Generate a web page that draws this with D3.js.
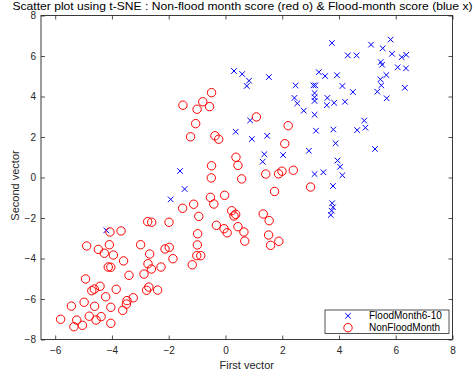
<!DOCTYPE html>
<html>
<head>
<meta charset="utf-8">
<script src="https://cdn.jsdelivr.net/npm/d3@7"></script>
<style>
  html, body { margin: 0; padding: 0; background: #fff; }
  svg { display: block; font-family: "Liberation Sans", Arial, sans-serif; }
</style>
</head>
<body>
<svg id="chart" width="475" height="377"></svg>
<script>
// t-SNE embedding: flood-month scores (blue x)
const floodX = [0.30, 0.59, 0.83, 0.75, 1.53, 2.47, 2.43, 2.53, 0.87, 0.36, 0.93, 1.47, 1.37, 1.31, 2.03,
  -1.60, -1.44, -1.93, -4.20, 3.75, 5.13, 5.54, 5.82, 5.87, 4.31, 4.62, 6.21, 6.37, 5.47, 5.52, 6.07, 6.36,
  3.29, 3.51, 3.93, 5.67, 5.46, 3.10, 3.17, 4.12, 5.49, 6.32, 4.49, 5.35, 3.14, 3.14, 3.59, 5.68, 3.14,
  3.57, 3.83, 4.21, 2.76, 3.14, 4.89, 4.93, 4.64, 3.19, 3.80, 3.88, 2.94, 5.27, 3.95, 4.04, 4.12, 3.14,
  3.45, 3.79, 3.76, 3.79, 3.74, 3.71];
const floodY = [5.26, 5.11, 4.78, 4.52, 4.96, 4.55, 3.93, 3.66, 2.82, 2.26, 1.90, 2.06, 1.15, 0.78, 1.11,
  0.32, -0.57, -1.08, -2.61, 6.64, 6.56, 6.38, 6.81, 6.11, 6.03, 6.03, 5.94, 6.06, 5.70, 5.57, 5.44, 5.39,
  5.20, 5.01, 5.05, 5.06, 4.85, 4.55, 4.55, 4.52, 4.55, 4.43, 4.22, 4.24, 4.17, 3.96, 3.93, 3.91, 3.78,
  3.57, 3.69, 3.74, 3.30, 3.10, 2.81, 2.46, 2.34, 2.31, 2.37, 1.69, 1.32, 1.41, 0.84, 0.53, 0.11, 0.17,
  0.26, -0.42, -1.27, -1.47, -1.64, -1.85];

// t-SNE embedding: non-flood-month scores (red o)
const nonFloodX = [-0.49, -0.80, -1.50, -1.00, -0.56, -1.05, 1.09, -1.23, -0.37, -0.24, 2.21, 2.09, 0.37,
  -0.49, 0.44, -0.50, 0.57, 1.42, 1.87, 1.99, 2.39, 1.73, -0.53, -0.41, -0.03, -1.12, -1.51, -0.94, 0.22,
  0.36, 0.30, -0.32, -0.05, 0.06, 0.44, 0.65, 0.68, 1.33, 1.54, 1.52, 1.59, 1.88, -0.98, -0.99, -1.01,
  -0.87, -1.17, 3.00, -2.74, -2.60, -1.99, -4.07, -3.68, -4.89, -4.09, -4.48, -4.27, -3.95, -2.99, -2.67,
  -2.13, -1.98, -1.85, -3.59, -4.13, -4.04, -2.73, -2.61, -2.27, -2.87, -3.40, -4.93, -4.42, -4.62, -4.71,
  -3.85, -2.70, -2.78, -2.39, -4.22, -3.25, -3.47, -3.49, -5.43, -4.98, -4.61, -4.04, -3.62, -5.81, -5.24,
  -4.80, -4.56, -4.38, -5.34, -5.04, -4.04];
const nonFloodY = [4.19, 3.74, 3.57, 3.37, 3.50, 2.66, 2.99, 2.01, 2.06, 1.89, 2.56, 1.67, 1.00, 0.58, 0.60,
  -0.02, -0.07, 0.17, 0.18, 0.31, 0.36, -0.69, -0.98, -1.31, -0.88, -1.32, -1.52, -1.92, -1.64, -1.82,
  -1.90, -2.36, -2.53, -2.73, -2.43, -2.69, -3.14, -1.80, -2.13, -2.84, -3.35, -3.15, -2.78, -3.33, -3.86,
  -3.86, -4.31, -0.47, -2.18, -2.21, -2.21, -2.69, -2.64, -3.38, -3.32, -3.55, -3.74, -3.83, -3.32, -3.78,
  -3.53, -3.45, -4.01, -4.12, -4.42, -4.43, -4.26, -4.52, -4.42, -4.77, -4.83, -5.01, -5.37, -5.51, -5.59,
  -5.52, -5.41, -5.57, -5.56, -5.89, -5.94, -6.08, -6.25, -6.35, -6.16, -6.36, -6.41, -6.56, -7.00, -7.04,
  -6.85, -7.04, -6.87, -7.37, -7.30, -7.20];

const xTicks = [-6, -4, -2, 0, 2, 4, 6, 8];
const yTicks = [-8, -6, -4, -2, 0, 2, 4, 6, 8];
const seriesNames = ["FloodMonth6-10", "NonFloodMonth"];
const titleText = "Scatter plot using t-SNE : Non-flood month score (red o) & Flood-month score (blue x)";

const svg = d3.select("#chart");
const axisColor = "#262626";
const m = { left: 41, right: 452.5, top: 15.5, bottom: 339.5 };

const x = d3.scaleLinear().domain([-6.5, 8]).range([m.left, m.right]);
const y = d3.scaleLinear().domain([-8, 8]).range([m.bottom, m.top]);

const fmt = d3.format("d");

function styleAxis(g) {
  g.select(".domain").remove();
  g.selectAll(".tick line").attr("stroke", axisColor).attr("stroke-width", 0.8);
  g.selectAll(".tick text").attr("fill", axisColor).attr("font-size", 10);
}

// bottom / left axes with inward ticks
svg.append("g")
  .attr("transform", `translate(0,${m.bottom})`)
  .call(d3.axisBottom(x).tickValues(xTicks).tickFormat(fmt).tickSizeInner(-4).tickSizeOuter(0).tickPadding(7))
  .call(styleAxis);

svg.append("g")
  .attr("transform", `translate(${m.left},0)`)
  .call(d3.axisLeft(y).tickValues(yTicks).tickFormat(fmt).tickSizeInner(-4).tickSizeOuter(0).tickPadding(5))
  .call(styleAxis);

// top / right axes: ticks only
svg.append("g")
  .attr("transform", `translate(0,${m.top})`)
  .call(d3.axisTop(x).tickValues(xTicks).tickFormat("").tickSizeInner(-4).tickSizeOuter(0))
  .call(styleAxis);

svg.append("g")
  .attr("transform", `translate(${m.right},0)`)
  .call(d3.axisRight(y).tickValues(yTicks).tickFormat("").tickSizeInner(-4).tickSizeOuter(0))
  .call(styleAxis);

// axes box
svg.append("rect")
  .attr("x", m.left).attr("y", m.top)
  .attr("width", m.right - m.left).attr("height", m.bottom - m.top)
  .attr("fill", "none").attr("stroke", axisColor).attr("stroke-width", 0.9);

const floodPts = floodX.map((v, i) => [v, floodY[i]]);
const nonFloodPts = nonFloodX.map((v, i) => [v, nonFloodY[i]]);

const xs = 2.8; // half-size of the x marker
const plot = svg.append("g");

plot.append("g").selectAll("path")
  .data(floodPts)
  .join("path")
  .attr("d", d => {
    const cx = x(d[0]), cy = y(d[1]);
    return `M${cx - xs},${cy - xs}L${cx + xs},${cy + xs}M${cx - xs},${cy + xs}L${cx + xs},${cy - xs}`;
  })
  .attr("stroke", "#0000ff")
  .attr("stroke-width", 1)
  .attr("fill", "none");

plot.append("g").selectAll("circle")
  .data(nonFloodPts)
  .join("circle")
  .attr("cx", d => x(d[0]))
  .attr("cy", d => y(d[1]))
  .attr("r", 4.2)
  .attr("fill", "none")
  .attr("stroke", "#ff0000")
  .attr("stroke-width", 1);

// title
svg.append("text")
  .attr("x", 242.5).attr("y", 9.5)
  .attr("text-anchor", "middle")
  .attr("font-size", 10.5)
  .attr("fill", "#000")
  .attr("textLength", 460)
  .attr("lengthAdjust", "spacingAndGlyphs")
  .text(titleText);

// axis labels
svg.append("text")
  .attr("x", (m.left + m.right) / 2).attr("y", 369)
  .attr("text-anchor", "middle")
  .attr("font-size", 11)
  .attr("fill", axisColor)
  .text("First vector");

svg.append("text")
  .attr("transform", `translate(18.5,${(m.top + m.bottom) / 2 + 8}) rotate(-90)`)
  .attr("text-anchor", "middle")
  .attr("font-size", 11)
  .attr("fill", axisColor)
  .text("Second vector");

// legend
const lg = { x0: 325, y0: 310, x1: 449, y1: 333.5 };
const legend = svg.append("g");
legend.append("rect")
  .attr("x", lg.x0).attr("y", lg.y0)
  .attr("width", lg.x1 - lg.x0).attr("height", lg.y1 - lg.y0)
  .attr("fill", "#fff").attr("stroke", axisColor).attr("stroke-width", 0.8);

const rowY = [315.8, 327.7];
const mx = 348;
legend.append("path")
  .attr("d", `M${mx - xs},${rowY[0] - xs}L${mx + xs},${rowY[0] + xs}M${mx - xs},${rowY[0] + xs}L${mx + xs},${rowY[0] - xs}`)
  .attr("stroke", "#0000ff").attr("stroke-width", 1);
legend.append("circle")
  .attr("cx", mx).attr("cy", rowY[1]).attr("r", 4.2)
  .attr("fill", "none").attr("stroke", "#ff0000").attr("stroke-width", 1);

legend.selectAll("text.lbl")
  .data(seriesNames)
  .join("text")
  .attr("class", "lbl")
  .attr("x", 369)
  .attr("y", (d, i) => rowY[i] + 3.6)
  .attr("font-size", 10)
  .attr("fill", "#000")
  .text(d => d);
</script>
</body>
</html>
